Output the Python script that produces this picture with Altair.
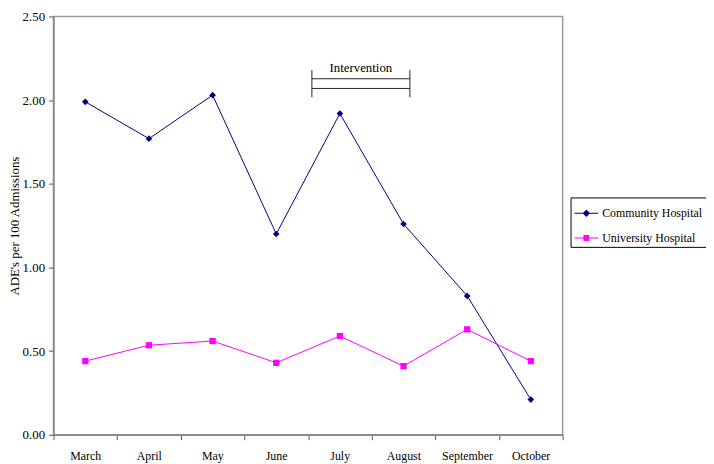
import altair as alt
import pandas as pd

months = ["March", "April", "May", "June", "July", "August", "September", "October"]
community = [1.99, 1.77, 2.03, 1.20, 1.92, 1.26, 0.83, 0.21]
university = [0.44, 0.535, 0.56, 0.43, 0.59, 0.41, 0.63, 0.44]
series_names = ["Community Hospital", "University Hospital"]
series_colors = ["#000080", "#FF00FF"]

# Intervention bracket (in data units: x in month-band units, y in ADE units)
bracket_x = [4.06, 5.60]
bracket_y_lines = [2.128, 2.07]
bracket_y_ticks = [2.18, 2.017]
bracket_label = "Intervention"
bracket_label_y = 2.19

rows = []
for i, m in enumerate(months):
    rows.append({"month": m, "pos": i + 0.5, "series": series_names[0], "value": community[i]})
    rows.append({"month": m, "pos": i + 0.5, "series": series_names[1], "value": university[i]})
df = pd.DataFrame(rows)

FONT = "Liberation Serif"
month_expr = "[" + ",".join("'" + m + "'" for m in months) + "]"

x_enc = alt.X(
    "pos:Q",
    scale=alt.Scale(domain=[0, len(months)], nice=False, zero=False),
    axis=alt.Axis(
        values=list(range(len(months) + 1)),
        labelExpr=f"datum.value < {len(months)} ? {month_expr}[datum.value] : ''",
        labelOffset=32,
        labelFlush=False,
        labelOverlap=False,
        labelFontSize=12,
        title=None,
        grid=False,
        tickSize=5,
        labelPadding=11,
    ),
)
y_enc = alt.Y(
    "value:Q",
    scale=alt.Scale(domain=[0, 2.5], nice=False),
    axis=alt.Axis(
        values=[0, 0.5, 1.0, 1.5, 2.0, 2.5],
        format=".2f",
        title="ADE's per 100 Admissions",
        grid=False,
        tickSize=5,
        labelPadding=4,
        titlePadding=1,
    ),
)

color_scale = alt.Scale(domain=series_names, range=series_colors)

legend_cfg = alt.Legend(
    title=None, orient="none", legendX=523, legendY=183,
    strokeColor="black", fillColor="white", padding=3,
    symbolSize=576, symbolOpacity=1, symbolStrokeWidth=1.2,
    labelFont=FONT, labelFontSize=12, labelColor="black",
    rowPadding=6, labelOffset=3,
)

color_enc = alt.Color("series:N", scale=color_scale, legend=legend_cfg)

lines = alt.Chart(df).mark_line(strokeWidth=1).encode(
    x=x_enc, y=y_enc, color=color_enc,
)

pts_c = alt.Chart(df).transform_filter(
    alt.datum.series == series_names[0]
).mark_point(shape="diamond", filled=True, size=45, opacity=1).encode(
    x="pos:Q", y="value:Q", color=color_enc,
)
pts_u = alt.Chart(df).transform_filter(
    alt.datum.series == series_names[1]
).mark_point(shape="square", filled=True, size=40, opacity=1).encode(
    x="pos:Q", y="value:Q", color=color_enc,
)

legend_shapes = [
    "M-1,0H1M0,-0.24L0.24,0L0,0.24L-0.24,0Z",
    "M-1,0H1M-0.2,-0.2H0.2V0.2H-0.2Z",
]
legend_layer = alt.Chart(df).mark_point(filled=True, opacity=0, strokeWidth=1).encode(
    x="pos:Q", y="value:Q",
    color=color_enc,
    shape=alt.Shape(
        "series:N",
        scale=alt.Scale(domain=series_names, range=legend_shapes),
        legend=legend_cfg,
    ),
)

bdf_h = pd.DataFrame({"x": [bracket_x[0]] * 2, "x2": [bracket_x[1]] * 2, "y": bracket_y_lines})
bdf_v = pd.DataFrame({"x": bracket_x, "y": [bracket_y_ticks[0]] * 2, "y2": [bracket_y_ticks[1]] * 2})
bdf_t = pd.DataFrame({"x": [(bracket_x[0] + bracket_x[1]) / 2], "y": [bracket_label_y], "t": [bracket_label]})

br_h = alt.Chart(bdf_h).mark_rule(color="#222222", strokeWidth=1).encode(x="x:Q", x2="x2:Q", y="y:Q")
br_v = alt.Chart(bdf_v).mark_rule(color="#222222", strokeWidth=1).encode(x="x:Q", y="y:Q", y2="y2:Q")
br_t = alt.Chart(bdf_t).mark_text(font=FONT, fontSize=13, color="black", baseline="middle").encode(
    x="x:Q", y="y:Q", text="t:N"
)

chart = alt.layer(lines, pts_c, pts_u, legend_layer, br_h, br_v, br_t).properties(
    width=515, height=423,
    autosize=alt.AutoSizeParams(type="none"),
    padding={"left": 46, "top": 6, "right": 145, "bottom": 27},
).configure_view(
    stroke="#999999", strokeWidth=1.5
).configure_axis(
    domainColor="#888888", domainWidth=1.5, tickColor="#555555",
    labelFont=FONT, labelFontSize=13, labelColor="black",
    titleFont=FONT, titleFontSize=13, titleColor="black", titleFontWeight="normal",
)

chart.save("out.html", embed_options={"renderer": "svg", "actions": False})
